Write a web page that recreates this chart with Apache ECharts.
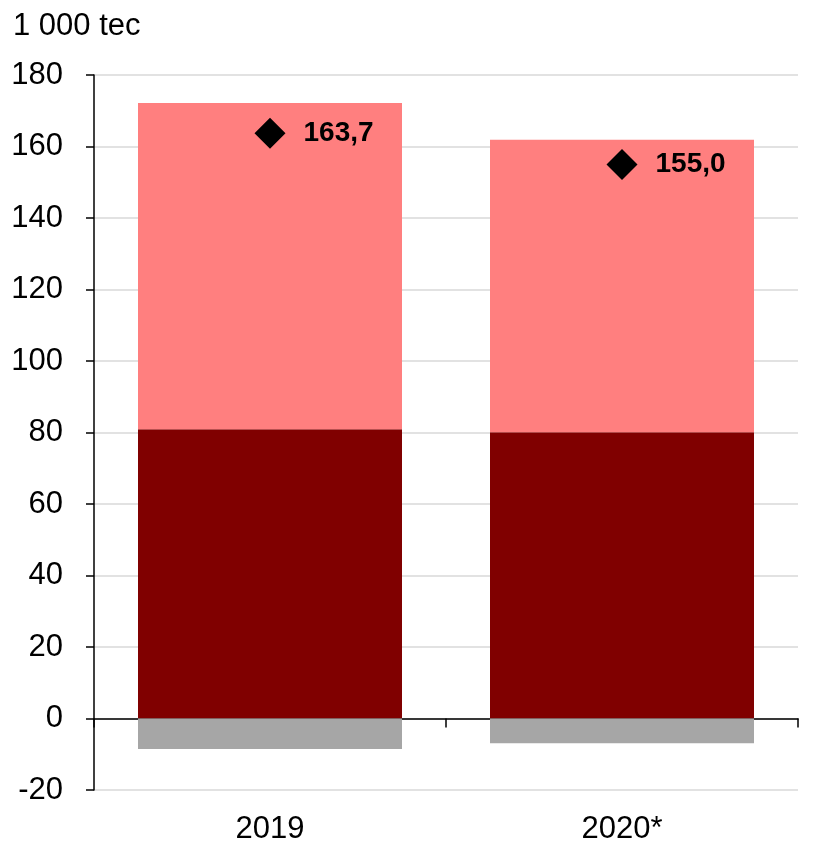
<!DOCTYPE html>
<html>
<head>
<meta charset="utf-8">
<script src="https://cdn.jsdelivr.net/npm/echarts@6/dist/echarts.min.js"></script>
<style>html,body{margin:0;padding:0;background:#fff}#c{width:830px;height:845px}</style>
</head>
<body>
<div id="c"></div>
<script>
const categories = ['2019', '2020*'];
const darkValues = [80.9, 80.1];
const pinkValues = [91.3, 81.8];
const grayValues = [-8.5, -6.9];
const totalValues = [163.7, 155.0];
const unitLabel = '1 000 tec';

const font = '"Liberation Sans", Arial, sans-serif';
const chart = echarts.init(document.getElementById('c'), null, {renderer: 'canvas'});
chart.setOption({
  animation: false,
  title: {text: unitLabel, left: 13, top: 11, padding: 0, textStyle: {fontFamily: font, fontSize: 31, fontWeight: 'normal', color: '#000'}},
  grid: {left: 94, right: 32, top: 75, bottom: 52, containLabel: false},
  xAxis: [
    {type: 'category', data: categories, position: 'bottom',
     axisLine: {show: false, onZero: false}, axisTick: {show: false},
     axisLabel: {fontFamily: font, fontSize: 31, color: '#000', margin: 24}},
    {type: 'category', data: categories, position: 'top',
     axisLine: {show: true, onZero: true, lineStyle: {color: '#000', width: 1.5}},
     axisTick: {show: true, inside: true, length: 9, lineStyle: {color: '#000', width: 1.5}},
     axisLabel: {show: false}}
  ],
  yAxis: {type: 'value', min: -20, max: 180, interval: 20,
    axisLine: {show: true, lineStyle: {color: '#000', width: 1.5}},
    axisTick: {show: true, length: 8, lineStyle: {color: '#000', width: 1.5}},
    axisLabel: {fontFamily: font, fontSize: 31, color: '#000', margin: 31},
    splitLine: {show: true, lineStyle: {color: '#d9d9d9', width: 1.5}}},
  series: [
    {type: 'bar', stack: 's', data: darkValues, barCategoryGap: '25%', itemStyle: {color: '#800000'}},
    {type: 'bar', stack: 's', data: pinkValues, itemStyle: {color: '#FF7F7F'}},
    {type: 'bar', stack: 's', data: grayValues, itemStyle: {color: '#A6A6A6'}},
    {type: 'scatter', data: totalValues, symbol: 'diamond', symbolSize: [31, 31],
     itemStyle: {color: '#000', opacity: 1}, z: 5,
     label: {show: true, position: 'right', distance: 18, fontFamily: font, fontSize: 28, fontWeight: 'bold', color: '#000',
       formatter: p => p.value.toFixed(1).replace('.', ',')}}
  ]
});
</script>
</body>
</html>
